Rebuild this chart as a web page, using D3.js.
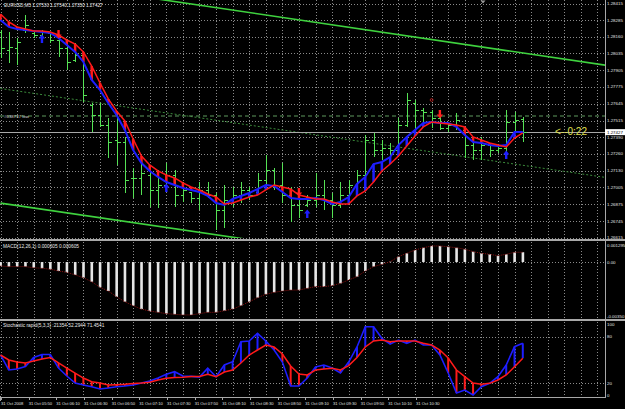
<!DOCTYPE html>
<html><head><meta charset="utf-8">
<script src="https://cdn.jsdelivr.net/npm/d3@7"></script>
<style>body{margin:0;background:#000;overflow:hidden}svg{display:block}text{font-family:"Liberation Sans",Arial,sans-serif}</style>
</head><body><svg id="c" width="625" height="409"></svg>
<script>
// ---------------- data ----------------
const opens = [1.28196,1.28058,1.28073,1.28212,1.28189,1.28173,1.28189,1.28135,1.28073,1.27981,
1.28020,1.27636,1.27559,1.27482,1.27367,1.27351,1.27075,1.27075,1.27098,1.26983,
1.27021,1.27098,1.26944,1.26967,1.26921,1.26983,1.26944,1.26829,1.26906,1.26944,
1.26983,1.26967,1.27060,1.27136,1.27021,1.26944,1.26868,1.26868,1.26906,1.26944,
1.26906,1.26868,1.26944,1.27021,1.27098,1.27367,1.27290,1.27305,1.27290,1.27482,
1.27651,1.27597,1.27582,1.27536,1.27459,1.27482,1.27444,1.27328,1.27290,1.27328,
1.27290,1.27305,1.27505,1.27530];
const highs = [1.28212,1.28196,1.28150,1.28327,1.28196,1.28212,1.28196,1.28173,1.28096,1.28112,
1.28043,1.27651,1.27651,1.27536,1.27574,1.27390,1.27152,1.27236,1.27136,1.27136,
1.27190,1.27136,1.27044,1.26967,1.27044,1.27044,1.26960,1.27021,1.27006,1.27044,
1.27006,1.27113,1.27252,1.27152,1.27190,1.27006,1.26967,1.26944,1.27113,1.27060,
1.26960,1.27044,1.27060,1.27136,1.27405,1.27421,1.27367,1.27344,1.27536,1.27728,
1.27674,1.27613,1.27597,1.27543,1.27497,1.27574,1.27467,1.27367,1.27390,1.27344,
1.27313,1.27597,1.27582,1.27540];
const lows = [1.27997,1.27958,1.27943,1.28189,1.28150,1.28158,1.28112,1.28004,1.27904,1.27966,
1.27659,1.27428,1.27467,1.27229,1.27175,1.26960,1.26921,1.26944,1.26852,1.26845,
1.26967,1.26852,1.26891,1.26883,1.26829,1.26921,1.26676,1.26691,1.26852,1.26883,
1.26906,1.26967,1.27021,1.26983,1.26883,1.26737,1.26768,1.26852,1.26852,1.26829,
1.26768,1.26845,1.26906,1.26960,1.27083,1.27236,1.27213,1.27229,1.27252,1.27467,
1.27444,1.27497,1.27459,1.27444,1.27428,1.27444,1.27229,1.27213,1.27213,1.27236,
1.27267,1.27275,1.27421,1.27350];
const closes = [1.28073,1.28081,1.28119,1.28250,1.28173,1.28196,1.28135,1.28073,1.27966,1.28020,
1.27712,1.27559,1.27482,1.27351,1.27351,1.27060,1.27075,1.27113,1.26983,1.27021,
1.27098,1.26944,1.26983,1.26921,1.26983,1.26944,1.26829,1.26906,1.26944,1.26983,
1.26944,1.27060,1.27136,1.27021,1.26944,1.26868,1.26829,1.26906,1.26944,1.26906,
1.26868,1.26944,1.27021,1.27098,1.27367,1.27290,1.27305,1.27290,1.27482,1.27674,
1.27597,1.27582,1.27536,1.27459,1.27482,1.27520,1.27328,1.27290,1.27328,1.27290,
1.27305,1.27505,1.27520,1.27427];
const maSlow = [1.28334,1.28273,1.28235,1.28219,1.28204,1.28204,1.28196,1.28173,1.28135,1.28104,
1.28043,1.27935,1.27805,1.27682,1.27590,1.27513,1.27374,1.27244,1.27175,1.27129,
1.27098,1.27075,1.27037,1.27006,1.26983,1.26952,1.26929,1.26875,1.26883,1.26906,
1.26929,1.26944,1.26983,1.27021,1.27006,1.26990,1.26944,1.26929,1.26914,1.26914,
1.26891,1.26875,1.26875,1.26937,1.26975,1.27044,1.27129,1.27182,1.27244,1.27321,
1.27398,1.27467,1.27505,1.27497,1.27490,1.27482,1.27467,1.27390,1.27367,1.27344,
1.27328,1.27313,1.27382,1.27421];
const maFast = [1.28288,1.28235,1.28219,1.28212,1.28204,1.28196,1.28189,1.28150,1.28096,1.28043,
1.27966,1.27828,1.27751,1.27651,1.27559,1.27444,1.27290,1.27190,1.27129,1.27083,
1.27044,1.27021,1.26998,1.26983,1.26967,1.26937,1.26883,1.26868,1.26914,1.26937,
1.26960,1.26990,1.27021,1.27014,1.26967,1.26921,1.26914,1.26914,1.26921,1.26906,
1.26875,1.26891,1.26929,1.27029,1.27083,1.27182,1.27198,1.27236,1.27328,1.27390,
1.27444,1.27497,1.27505,1.27497,1.27497,1.27467,1.27405,1.27351,1.27344,1.27328,
1.27321,1.27328,1.27428,1.27428];
const macd = [-0.00024,-0.00028,-0.00028,-0.00028,-0.00035,-0.00038,-0.00044,-0.00055,-0.00063,-0.00079,
-0.00096,-0.00121,-0.00155,-0.00178,-0.00213,-0.00244,-0.00268,-0.00289,-0.00301,-0.00309,
-0.00317,-0.00321,-0.00325,-0.00325,-0.00317,-0.00309,-0.00309,-0.00299,-0.00289,-0.00268,
-0.00244,-0.00219,-0.00198,-0.00186,-0.00178,-0.00172,-0.00172,-0.00161,-0.00151,-0.00151,
-0.00145,-0.00131,-0.00110,-0.00090,-0.00055,-0.00028,-0.00014,0.00002,0.00033,0.00054,
0.00074,0.00088,0.00099,0.00099,0.00094,0.00088,0.00079,0.00064,0.00054,0.00048,
0.00039,0.00048,0.00060,0.000605];
const stochMain = [56.4,37.2,38.5,41.7,53.2,57.1,57.1,39.7,29.5,20.5,
17.9,15.8,12.8,14.1,15.8,16.7,17.9,20.5,23.1,26.9,
31.7,35.0,29.5,29.0,28.0,39.4,28.6,43.6,47.8,73.5,
74.4,84.2,74.4,62.8,47.4,16.7,16.7,26.9,41.0,43.6,
39.7,33.3,47.4,66.7,92.7,92.7,77.8,70.5,75.6,71.4,
75.6,69.2,69.2,56.4,33.3,7.7,11.5,5.1,15.8,20.1,
28.6,43.6,67.1,71.4541];
const stochSignal = [56.4,50.0,47.4,46.2,48.7,51.3,53.2,46.2,39.7,33.3,
26.9,22.2,20.5,17.9,18.3,18.8,19.9,20.5,21.4,24.4,
26.5,27.6,28.0,28.8,29.0,31.7,28.6,34.6,37.2,46.2,
56.4,62.8,69.2,66.7,57.7,42.3,32.1,30.8,37.2,38.5,
39.4,37.2,42.9,53.2,66.7,74.4,75.6,73.5,74.4,74.4,
74.4,71.4,69.2,62.8,52.6,37.2,28.6,20.5,18.8,20.1,
24.4,30.8,41.4,52.2944];
const priceTicks = [1.28415,1.28285,1.28160,1.28035,1.27905,1.27775,1.27645,1.27515,1.27390,1.27260,1.27130,1.27005,1.26875,1.26745,1.26615];
const priceTickLabels = ["1.28415","1.28285","1.28160","1.28035","1.27905","1.27775","1.27645","1.27515","1.27390","1.27260","1.27130","1.27005","1.26875","1.26745","1.26615"];
const bidPrice = 1.27427;
const lowLevel = 1.27551;
const macdTicks = [0.001295, 0, -0.0035];
const macdTickLabels = ["0.001295","0.00","-0.00350"];
const stochTicks = [100, 80, 20, 0];
const stochLevels = [80, 20];
const timeLabels = ["31 Oct 2008","31 Oct 05:50","31 Oct 06:10","31 Oct 06:30","31 Oct 06:50","31 Oct 07:10","31 Oct 07:30","31 Oct 07:50","31 Oct 08:10","31 Oct 08:30","31 Oct 08:50","31 Oct 09:10","31 Oct 09:30","31 Oct 09:50","31 Oct 10:10","31 Oct 10:30"];
const buyIdx = [5, 20, 37, 61];
const buyPrice = [1.28142, 1.26998, 1.26798, 1.27252];
const sellIdx = [7, 36, 53];
const sellPrice = [1.28181, 1.26967, 1.27566];
const markIdx = [52];
const markPrice = [1.27674];
const channelUpper = [[19, 1.28449], [73, 1.27941]];
const channelLower = [[0, 1.26882], [31, 1.26592]];
const channelMid = [[0, 1.27762], [73, 1.27079]];
const titleText = "EURUSD,M5  1.27530 1.27540 1.27350 1.27427";
const macdTitle = "MACD(12,26,1) 0.000605 0.000605";
const stochTitle = "Stochastic rapid(5,3,3) :21354 52.2944 71.4541";
const lowText = "#038737 low";
const timerText = "<--0:22";

// ---------------- scales ----------------
const W = 625, H = 409, PR = 605;
const x = d3.scaleLinear().domain([0, 63]).range([0.5, 522.8]);
const yP = d3.scaleLinear().domain([1.26614, 1.28442]).range([238, 0]);
const yM = d3.scaleLinear().domain([-0.0035, 0.001295]).range([319, 241]);
const yS = d3.scaleLinear().domain([0, 100]).range([399, 321]);
const xT = d3.scaleLinear().domain([0, timeLabels.length - 1]).range([1, 416]);

const svg = d3.select("#c");
svg.append("rect").attr("width", W).attr("height", H).attr("fill", "#000");
const defs = svg.append("defs");
[["cm", 0, 238], ["cd", 240, 79], ["cs", 320, 77]].forEach(([id, y0, h]) =>
  defs.append("clipPath").attr("id", id).append("rect").attr("x", 0).attr("y", y0).attr("width", PR).attr("height", h));

const idx = d3.range(opens.length);
const fontAxis = 4.4;

// ---------------- grid ----------------
const grid = svg.append("g").attr("stroke", "#8a8a8a").attr("stroke-dasharray", "1,2").attr("shape-rendering", "crispEdges");
d3.range(0, 73, 2).forEach(i => {
  const gx = Math.round(x(i)) + 0.5;
  [[0, 238], [242, 318], [322, 396]].forEach(([a, b]) =>
    grid.append("line").attr("x1", gx).attr("x2", gx).attr("y1", a).attr("y2", b));
});
priceTicks.forEach(p => {
  const gy = Math.round(yP(p)) + 0.5;
  grid.append("line").attr("x1", 0).attr("x2", PR).attr("y1", gy).attr("y2", gy);
});
grid.append("line").attr("x1", 0).attr("x2", PR).attr("y1", Math.round(yM(0)) + 0.5).attr("y2", Math.round(yM(0)) + 0.5);
stochLevels.forEach(v => {
  const gy = Math.round(yS(v)) + 0.5;
  grid.append("line").attr("x1", 0).attr("x2", PR).attr("y1", gy).attr("y2", gy);
});

// ---------------- main panel ----------------
const main = svg.append("g").attr("clip-path", "url(#cm)");
const lineP = d3.line().x(d => x(d[0])).y(d => yP(d[1]));
main.append("path").attr("d", lineP(channelUpper)).attr("stroke", "#3fd23f").attr("stroke-width", 1.6).attr("fill", "none");
main.append("path").attr("d", lineP(channelLower)).attr("stroke", "#3fd23f").attr("stroke-width", 1.6).attr("fill", "none");
main.append("path").attr("d", lineP(channelMid)).attr("stroke", "#3c8c3c").attr("stroke-width", 1).attr("stroke-dasharray", "2,2").attr("fill", "none");
main.append("line").attr("x1", 0).attr("x2", PR).attr("y1", yP(lowLevel)).attr("y2", yP(lowLevel))
  .attr("stroke", "#5f9a5f").attr("stroke-dasharray", "4,3");
main.append("line").attr("x1", 0).attr("x2", PR).attr("y1", Math.round(yP(bidPrice)) + 0.5).attr("y2", Math.round(yP(bidPrice)) + 0.5)
  .attr("stroke", "#a8a8a8").attr("stroke-width", 1);

// OHLC bars
const bars = main.append("g").attr("stroke", "#55e255").attr("stroke-width", 1).attr("shape-rendering", "crispEdges");
idx.forEach(i => {
  const bx = Math.round(x(i)) + 0.5;
  bars.append("line").attr("x1", bx).attr("x2", bx).attr("y1", yP(highs[i])).attr("y2", yP(lows[i]));
  bars.append("line").attr("x1", bx - 3).attr("x2", bx).attr("y1", Math.round(yP(opens[i])) + 0.5).attr("y2", Math.round(yP(opens[i])) + 0.5);
  bars.append("line").attr("x1", bx).attr("x2", bx + 3).attr("y1", Math.round(yP(closes[i])) + 0.5).attr("y2", Math.round(yP(closes[i])) + 0.5);
});

// hatch between MAs
const hatch = main.append("g").attr("stroke-width", 2.5);
idx.forEach(i => {
  hatch.append("line").attr("x1", x(i)).attr("x2", x(i)).attr("y1", yP(maSlow[i])).attr("y2", yP(maFast[i]))
    .attr("stroke", maFast[i] > maSlow[i] ? "#1e1eff" : "#ff1a1a");
});
main.append("path").datum(idx).attr("d", d3.line().x(i => x(i)).y(i => yP(maFast[i])))
  .attr("stroke", "#1e1eff").attr("stroke-width", 2).attr("fill", "none");
main.append("path").datum(idx).attr("d", d3.line().x(i => x(i)).y(i => yP(maSlow[i])))
  .attr("stroke", "#ff1a1a").attr("stroke-width", 1.5).attr("fill", "none");

// arrows
const upArrow = "M0,-4.5L3.2,-0.5L1.2,-0.5L1.2,4L-1.2,4L-1.2,-0.5L-3.2,-0.5Z";
const downArrow = "M0,4.5L3.2,0.5L1.2,0.5L1.2,-4L-1.2,-4L-1.2,0.5L-3.2,0.5Z";
buyIdx.forEach((k, j) => main.append("path").attr("d", upArrow)
  .attr("transform", `translate(${x(k)},${yP(buyPrice[j])})`).attr("fill", "#1e1eff"));
sellIdx.forEach((k, j) => main.append("path").attr("d", downArrow)
  .attr("transform", `translate(${x(k)},${yP(sellPrice[j])})`).attr("fill", "#ff2020"));
markIdx.forEach((k, j) => main.append("circle").attr("cx", x(k)).attr("cy", yP(markPrice[j])).attr("r", 1.4)
  .attr("fill", "none").attr("stroke", "#c02020").attr("stroke-width", 0.9));

// texts main
svg.append("text").attr("x", 4).attr("y", 7).attr("fill", "#e8e8e8").attr("font-size", 4.6).text(titleText);
svg.append("text").attr("x", 4).attr("y", yP(lowLevel) + 1.5).attr("fill", "#d8d8d8").attr("font-size", 4.4).text(lowText);
svg.append("text").attr("x", 555).attr("y", yP(bidPrice) + 3).attr("fill", "#e0e050").attr("font-size", 10).text(timerText);
svg.append("path").attr("d", "M480.5,0.5L485.5,0.5L483,3.5Z").attr("fill", "#9a9a9a");

// ---------------- MACD panel ----------------
const md = svg.append("g").attr("clip-path", "url(#cd)");
md.append("g").attr("fill", "#e6e6e6").selectAll("rect").data(idx).join("rect")
  .attr("x", i => x(i) - 1.2).attr("width", 2.6)
  .attr("y", i => Math.min(yM(0), yM(macd[i])))
  .attr("height", i => Math.abs(yM(macd[i]) - yM(0)));
md.append("path").datum(idx).attr("d", d3.line().x(i => x(i)).y(i => yM(macd[i])))
  .attr("stroke", "#8b1010").attr("stroke-width", 1).attr("stroke-dasharray", "1,1").attr("fill", "none");
svg.append("text").attr("x", 3).attr("y", 248).attr("fill", "#e8e8e8").attr("font-size", 4.8).text(macdTitle);

// ---------------- Stochastic panel ----------------
const st = svg.append("g").attr("clip-path", "url(#cs)");
const sh = st.append("g").attr("stroke-width", 2);
idx.forEach(i => {
  sh.append("line").attr("x1", x(i)).attr("x2", x(i)).attr("y1", yS(stochMain[i])).attr("y2", yS(stochSignal[i]))
    .attr("stroke", stochMain[i] > stochSignal[i] ? "#1e1eff" : "#ff1a1a");
});
st.append("path").datum(idx).attr("d", d3.line().x(i => x(i)).y(i => yS(stochMain[i])))
  .attr("stroke", "#1e1eff").attr("stroke-width", 1.6).attr("fill", "none");
st.append("path").datum(idx).attr("d", d3.line().x(i => x(i)).y(i => yS(stochSignal[i])))
  .attr("stroke", "#ff1a1a").attr("stroke-width", 1.5).attr("fill", "none");
svg.append("text").attr("x", 3).attr("y", 327).attr("fill", "#e8e8e8").attr("font-size", 4.8).text(stochTitle);

// ---------------- frames ----------------
const fr = svg.append("g").attr("stroke", "#a8a8a8").attr("shape-rendering", "crispEdges");
fr.append("line").attr("x1", 0).attr("x2", W).attr("y1", 239.5).attr("y2", 239.5).attr("stroke-width", 2);
fr.append("line").attr("x1", 0).attr("x2", W).attr("y1", 319.5).attr("y2", 319.5).attr("stroke-width", 2);
fr.append("line").attr("x1", 0).attr("x2", PR).attr("y1", 397.5).attr("y2", 397.5);
fr.append("line").attr("x1", PR + 0.5).attr("x2", PR + 0.5).attr("y1", 0).attr("y2", 398);
fr.append("line").attr("x1", 0.5).attr("x2", 0.5).attr("y1", 396).attr("y2", 401);

// ---------------- axes labels ----------------
const ax = svg.append("g").attr("fill", "#e0e0e0").attr("font-size", fontAxis);
priceTicks.forEach((p, j) => ax.append("text").attr("x", 607).attr("y", yP(p) + 1.6).text(priceTickLabels[j]));
macdTicks.forEach((v, j) => ax.append("text").attr("x", 607).attr("y", Math.max(245, Math.min(316, yM(v))) + 1.6).text(macdTickLabels[j]));
stochTicks.forEach(v => ax.append("text").attr("x", 607).attr("y", Math.max(324, Math.min(395, yS(v))) + 1.6).text(v));
svg.append("rect").attr("x", 605).attr("y", yP(bidPrice) - 3).attr("width", 20).attr("height", 6).attr("fill", "#ffffff");
svg.append("text").attr("x", 607).attr("y", yP(bidPrice) + 1.6).attr("fill", "#000").attr("font-size", fontAxis).text(bidPrice.toFixed(5));

const tl = svg.append("g").attr("fill", "#e0e0e0").attr("font-size", 4.1);
timeLabels.forEach((t, j) => {
  tl.append("text").attr("x", xT(j)).attr("y", 405).text(t);
  svg.append("line").attr("x1", Math.round(xT(j)) + 0.5).attr("x2", Math.round(xT(j)) + 0.5).attr("y1", 397).attr("y2", 400)
    .attr("stroke", "#a8a8a8").attr("shape-rendering", "crispEdges");
});
</script></body></html>
